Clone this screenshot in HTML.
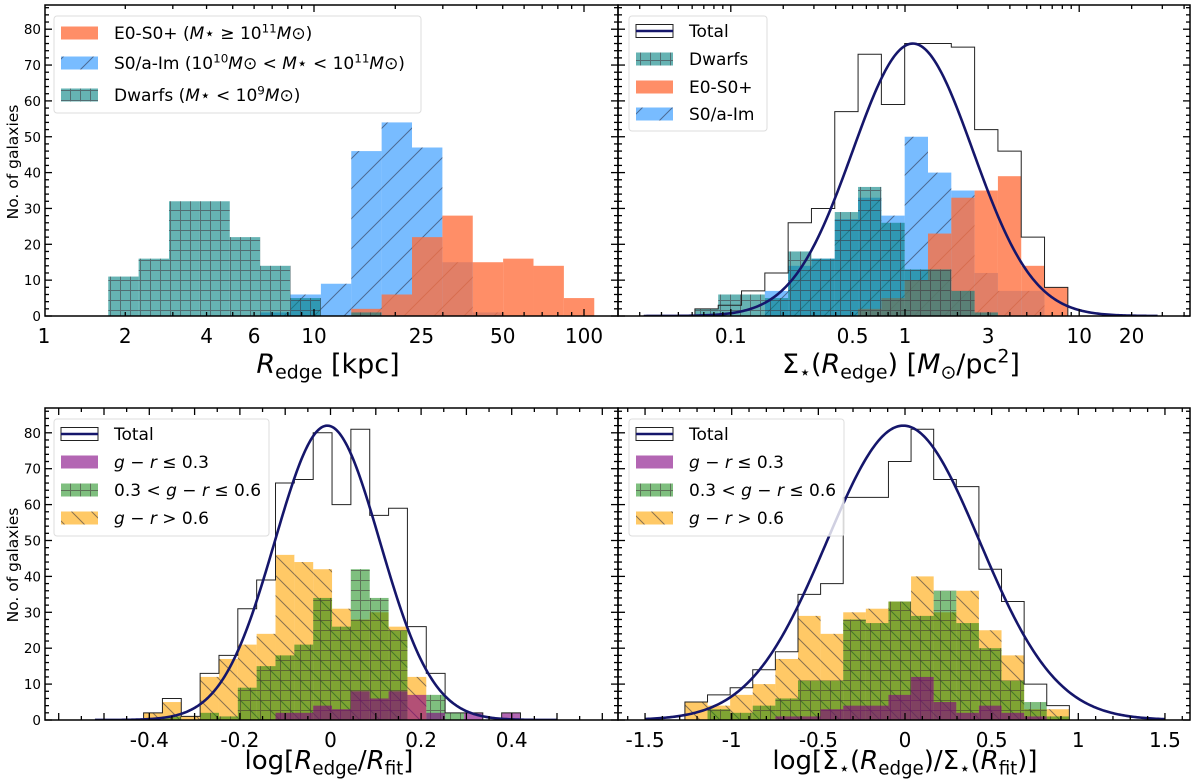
<!DOCTYPE html>
<html><head><meta charset="utf-8">
<style>
html,body{margin:0;padding:0;background:#fff;}
svg{display:block;font-family:"DejaVu Sans","Liberation Sans",sans-serif;}
</style></head>
<body>
<svg id="fig" width="1200" height="779" viewBox="0 0 1200 779" xmlns="http://www.w3.org/2000/svg">
<defs>
<pattern id="hatchSlash" patternUnits="userSpaceOnUse" width="30" height="30">
<path d="M-5,35 L35,-5 M-35,35 L5,-5 M25,35 L65,-5" stroke="rgba(40,40,60,0.55)" stroke-width="1"/>
</pattern>
<pattern id="hatchBack" patternUnits="userSpaceOnUse" width="20" height="20">
<path d="M-5,-5 L25,25 M-25,-5 L5,25 M15,-5 L45,25" stroke="rgba(40,40,60,0.55)" stroke-width="1"/>
</pattern>
<pattern id="hatchGrid" patternUnits="userSpaceOnUse" width="10" height="10">
<path d="M0,0.5 H10 M0.5,0 V10" stroke="rgba(60,40,50,0.5)" stroke-width="1"/>
</pattern>
</defs>
<g id="root"></g>
</svg>
<script>
// ---------- DATA ----------
const tlBinStart = 0.238;
const tlBinWidth = 0.1125;
const tlDwarfs = [11,16,32,32,22,14,5,0,1,0,0,0,0,0,0,0];
const tlSpirals = [0,0,0,0,0,1,6,9,46,54,47,15,1,0,0,0];
const tlEarly = [0,0,0,0,0,0,0,0,2,6,22,28,15,16,14,5];
const tlTickVals = [1,2,4,6,10,25,50,100];
const tlTickLabels = ['1','2','4','6','10','25','50','100'];

const trBinStart = -1.206;
const trBinWidth = 0.1338;
const trTotal = [2,3,7,12,26,30,57,73,59,76,76,75,52,46,22,8];
const trDwarfs = [2,6,6,5,18,16,29,36,26,13,13,7,1,0,0,0];
const trSpirals = [0,0,0,7,14,16,27,33,28,50,40,35,12,7,7,0];
const trEarly = [0,0,0,0,0,0,0,2,5,10,23,33,35,39,14,8];
const trFitParams = [76, 0.045, 0.345];
const trTickVals = [0.1,0.5,1,3,10,20];
const trTickLabels = ['0.1','0.5','1','3','10','20'];

const blBinStart = -0.4126;
const blBinWidth = 0.0416;
const blTotal = [2,6,1,13,18,31,39,66,67,80,60,81,57,59,26,13,2,2,0,2];
const blRed = [2,5,1,12,17,21,24,46,44,42,31,28,30,26,12,0,0,0,0,0];
const blGreen = [0,1,0,2,1,9,15,18,21,34,26,42,34,25,0,7,2,0,0,0];
const blBlue = [0,0,0,0,0,0,0,2,2,4,3,8,6,8,7,2,0,2,0,2];
const blFitParams = [82, -0.007, 0.116];
const blTickVals = [-0.4,-0.2,0,0.2,0.4];
const blTickLabels = ['-0.4','-0.2','0','0.2','0.4'];

const brBinStart = -1.27;
const brBinWidth = 0.1305;
const brTotal = [5,7,9,14,19,35,38,62,62,72,81,67,65,42,33,10,4];
const brRed = [5,4,7,10,17,29,24,30,31,33,40,30,36,25,18,3,3];
const brGreen = [0,3,2,4,6,11,11,28,27,33,29,36,27,20,11,5,1];
const brBlue = [0,0,0,0,1,1,3,4,4,7,12,5,2,4,2,1,0];
const brFitParams = [82, -0.01, 0.441];
const brTickVals = [-1.5,-1,-0.5,0,0.5,1,1.5];
const brTickLabels = ['-1.5','-1','-0.5','0','0.5','1','1.5'];

const yTickVals = [0,10,20,30,40,50,60,70,80];

// ---------- HELPERS ----------
const NS = 'http://www.w3.org/2000/svg';
const root = document.getElementById('root');
function el(tag, parent){ const e = document.createElementNS(NS, tag); parent.appendChild(e); return e; }
function grp(parent, name){ const g = el('g', parent);
  
  
  return g; }

const tlX = v => 44 + 270 * v;
const trX = v => 905 + 174.2 * v;
const blX = v => 330.5 + 453 * v;
const brX = v => 905 + 173.3 * v;
const topY = c => 316 - c * 3.585;
const botY = c => 720 - c * 3.59;

function drawBars(g, vals, start, w, X, Y, fill, hatch, name){
  const sg = grp(g, name);
  vals.forEach((v, i) => {
    if (v <= 0) return;
    const x0 = X(start + i * w), x1 = X(start + (i + 1) * w);
    const r = el('rect', sg);
    
    
    r.setAttribute('x', x0); r.setAttribute('width', x1 - x0);
    r.setAttribute('y', Y(v)); r.setAttribute('height', Y(0) - Y(v));
    r.setAttribute('fill', fill);
    if (hatch){
      const h = el('rect', sg);
      
      
      h.setAttribute('x', x0); h.setAttribute('width', x1 - x0);
      h.setAttribute('y', Y(v)); h.setAttribute('height', Y(0) - Y(v));
      h.setAttribute('fill', 'url(#' + hatch + ')');
    }
  });
}
function drawStep(g, vals, start, w, X, Y){
  let d = 'M' + X(start) + ',' + Y(0);
  vals.forEach((v, i) => { d += ' V' + Y(v) + ' H' + X(start + (i + 1) * w); });
  d += ' V' + Y(0);
  const p = el('path', g);
  
  
  p.setAttribute('d', d); p.setAttribute('fill', 'none');
  p.setAttribute('stroke', '#222'); p.setAttribute('stroke-width', '1');
}
function drawFit(g, params, lo, hi, X, Y){
  const [A, mu, s] = params;
  let d = '';
  for (let k = 0; k <= 300; k++){
    const v = lo + (hi - lo) * k / 300;
    const c = A * Math.exp(-0.5 * ((v - mu) / s) ** 2);
    d += (k ? ' L' : 'M') + X(v).toFixed(2) + ',' + Y(c).toFixed(2);
  }
  const p = el('path', g);
  
  
  p.setAttribute('d', d); p.setAttribute('fill', 'none');
  p.setAttribute('stroke', '#15166b'); p.setAttribute('stroke-width', '2.6');
}
function tick(g, x1, y1, x2, y2){
  const l = el('line', g);
  l.setAttribute('x1', x1); l.setAttribute('y1', y1); l.setAttribute('x2', x2); l.setAttribute('y2', y2);
  l.setAttribute('stroke', '#000'); l.setAttribute('stroke-width', '1.3');
}
function text(g, x, y, str, size, anchor, name){
  const t = el('text', g);
  
  
  t.setAttribute('x', x); t.setAttribute('y', y);
  t.setAttribute('font-size', size); t.setAttribute('text-anchor', anchor || 'middle');
  t.textContent = str;
  return t;
}

function panel(name, L, R, T, B, Y, xMajors, xMinors, xLabelVals, xLabels, X, showYLabels){
  const g = grp(root, name);
  const cp = 'clip-' + name;
  const c = el('clipPath', g); c.setAttribute('id', cp);
  const cr = el('rect', c); cr.setAttribute('x', L); cr.setAttribute('y', T); cr.setAttribute('width', R - L); cr.setAttribute('height', B - T);
  const plot = grp(g, name + '-plot-area');
  plot.setAttribute('clip-path', 'url(#' + cp + ')');
  const ax = grp(g, name + '-axes');
  const fr = el('rect', ax);
   
  fr.setAttribute('x', L); fr.setAttribute('y', T); fr.setAttribute('width', R - L); fr.setAttribute('height', B - T);
  fr.setAttribute('fill', 'none'); fr.setAttribute('stroke', '#000'); fr.setAttribute('stroke-width', '1.5');
  xMajors.forEach(v => { const x = X(v); if (x < L || x > R) return; tick(ax, x, B, x, B - 7); tick(ax, x, T, x, T + 7); });
  xMinors.forEach(v => { const x = X(v); if (x < L || x > R) return; tick(ax, x, B, x, B - 4); tick(ax, x, T, x, T + 4); });
  for (let c2 = 0; c2 <= 86; c2 += 2){
    const y = Y(c2); if (y < T) break;
    const len = c2 % 10 === 0 ? 7 : 4;
    tick(ax, L, y, L + len, y); tick(ax, R, y, R - len, y);
  }
  const xl = grp(g, name + '-x-tick-labels');
  xLabelVals.forEach((v, i) => text(xl, X(v), B + 27, xLabels[i], 20, 'middle', 'x-tick-label'));
  if (showYLabels){
    const yl = grp(g, name + '-y-tick-labels');
    yTickVals.forEach(v => text(yl, L - 4, Y(v) + 5, String(v), 13.5, 'end', 'y-tick-label'));
  }
  return {plot, g};
}

function legendBox(g, x, y, w, h){
  const r = el('rect', g);
   
  r.setAttribute('x', x); r.setAttribute('y', y); r.setAttribute('width', w); r.setAttribute('height', h);
  r.setAttribute('rx', 3); r.setAttribute('fill', 'rgba(255,255,255,0.8)'); r.setAttribute('stroke', '#ddd');
}
function legendPatch(g, x, yc, fill, hatch, total){
  const r = el('rect', g);
   
  r.setAttribute('x', x); r.setAttribute('y', yc - 6.5); r.setAttribute('width', 37); r.setAttribute('height', 13);
  r.setAttribute('fill', total ? '#fff' : fill);
  if (total){ r.setAttribute('stroke', '#222'); r.setAttribute('stroke-width', '1');
    const l = el('line', g); l.setAttribute('x1', x); l.setAttribute('x2', x + 37); l.setAttribute('y1', yc); l.setAttribute('y2', yc);
    l.setAttribute('stroke', '#15166b'); l.setAttribute('stroke-width', '2.6'); }
  if (hatch){ const h = el('rect', g); h.setAttribute('x', x); h.setAttribute('y', yc - 6.5); h.setAttribute('width', 37); h.setAttribute('height', 13); h.setAttribute('fill', 'url(#' + hatch + ')'); }
}
function richText(g, x, y, parts, name, size, anchor){
  const t = el('text', g);
   
  t.setAttribute('x', x); t.setAttribute('y', y); t.setAttribute('font-size', size || 17);
  if (anchor) t.setAttribute('text-anchor', anchor);
  parts.forEach(p => {
    const s = el('tspan', t);
    s.textContent = p[0];
    if (p[1] === 'i') s.setAttribute('font-style', 'italic');
    if (p[1] === 'sup'){ s.setAttribute('font-size', '0.7em'); s.setAttribute('dy', '-0.55em'); }
    if (p[1] === 'unsup'){ s.setAttribute('dy', '0.385em'); s.setAttribute('font-style', 'italic'); }
    if (p[1] === 'unsupn'){ s.setAttribute('dy', '0.385em'); }
    if (p[1] === 'sub'){ s.setAttribute('font-size', '0.7em'); s.setAttribute('dy', '0.3em'); }
    if (p[1] === 'unsub'){ s.setAttribute('dy', '-0.21em'); }
  });
  return t;
}

const cTeal = 'rgba(0,128,128,0.6)';
const cBlue = 'rgba(30,144,255,0.6)';
const cCoral = 'rgba(255,110,60,0.78)';
const cOrange = 'rgba(255,165,0,0.6)';
const cGreen = 'rgba(0,128,0,0.5)';
const cPurple = 'rgba(128,0,128,0.6)';

function logRange(a, b, mults){ const out = []; for (let e = a; e <= b; e++) mults.forEach(m => out.push(Math.log10(m * Math.pow(10, e)))); return out; }

// ---------- TOP LEFT ----------
{
  const p = panel('panel-redge', 45, 618, 5, 316, topY,
    [0,1,2], logRange(0, 2, [2,3,4,5,6,7,8,9]),
    tlTickVals.map(v => Math.log10(v)), tlTickLabels, tlX, true);
  drawBars(p.plot, tlSpirals, tlBinStart, tlBinWidth, tlX, topY, cBlue, 'hatchSlash', 'spirals-bars');
  drawBars(p.plot, tlEarly, tlBinStart, tlBinWidth, tlX, topY, cCoral, null, 'early-type-bars');
  drawBars(p.plot, tlDwarfs, tlBinStart, tlBinWidth, tlX, topY, cTeal, 'hatchGrid', 'dwarfs-bars');
  const lg = grp(p.g, 'legend-redge');
  legendBox(lg, 54, 16, 367, 97);
  legendPatch(lg, 61, 33, cCoral, null);
  richText(lg, 114, 39, [['E0-S0+ ('],['M','i'],['⋆ ≥ 10'],['11','sup'],['M','unsup'],['⊙)']], 'legend-entry-early');
  legendPatch(lg, 61, 63, cBlue, 'hatchSlash');
  richText(lg, 114, 69, [['S0/a-Im (10'],['10','sup'],['M','unsup'],['⊙ < '],['M','i'],['⋆ < 10'],['11','sup'],['M','unsup'],['⊙)']], 'legend-entry-spirals');
  legendPatch(lg, 61, 95, cTeal, 'hatchGrid');
  richText(lg, 114, 101, [['Dwarfs ('],['M','i'],['⋆ < 10'],['9','sup'],['M','unsup'],['⊙)']], 'legend-entry-dwarfs');
  richText(p.g, 328, 373, [['R','i'],['edge','sub'],[' [kpc]','unsub']], 'x-axis-title', 27, 'middle');
}

// ---------- TOP RIGHT ----------
{
  const p = panel('panel-sigma', 618, 1190, 5, 316, topY,
    [-2,-1,0,1], logRange(-2, 1, [2,3,4,5,6,7,8,9]),
    trTickVals.map(v => Math.log10(v)), trTickLabels, trX, false);
  drawBars(p.plot, trSpirals, trBinStart, trBinWidth, trX, topY, cBlue, 'hatchSlash', 'spirals-bars');
  drawBars(p.plot, trEarly, trBinStart, trBinWidth, trX, topY, cCoral, null, 'early-type-bars');
  drawBars(p.plot, trDwarfs, trBinStart, trBinWidth, trX, topY, cTeal, 'hatchGrid', 'dwarfs-bars');
  drawStep(p.plot, trTotal, trBinStart, trBinWidth, trX, topY);
  drawFit(p.plot, trFitParams, -1.5, 1.45, trX, topY);
  const lg = grp(p.g, 'legend-sigma');
  legendBox(lg, 629, 16, 138, 115);
  legendPatch(lg, 636, 31, null, null, true);
  richText(lg, 689, 37, [['Total']], 'legend-entry-total');
  legendPatch(lg, 636, 59, cTeal, 'hatchGrid');
  richText(lg, 689, 65, [['Dwarfs']], 'legend-entry-dwarfs');
  legendPatch(lg, 636, 87, cCoral, null);
  richText(lg, 689, 93, [['E0-S0+']], 'legend-entry-early');
  legendPatch(lg, 636, 114, cBlue, 'hatchSlash');
  richText(lg, 689, 120, [['S0/a-Im']], 'legend-entry-spirals');
  richText(p.g, 901, 373, [['Σ'],['⋆','sub'],['(','unsub'],['R','i'],['edge','sub'],[') [','unsub'],['M','i'],['⊙','sub'],['/pc','unsub'],['2','sup'],[']','unsupn']], 'x-axis-title', 27, 'middle');
}

// ---------- BOTTOM LEFT ----------
{
  const majors = [], minors = [];
  for (let k = -12; k <= 12; k++){ const v = k * 0.05; if (k % 2 === 0) majors.push(v); else minors.push(v); }
  const p = panel('panel-rratio', 45, 618, 408, 720, botY, majors, minors, blTickVals, blTickLabels, blX, true);
  drawBars(p.plot, blRed, blBinStart, blBinWidth, blX, botY, cOrange, 'hatchBack', 'red-color-bars');
  drawBars(p.plot, blGreen, blBinStart, blBinWidth, blX, botY, cGreen, 'hatchGrid', 'green-color-bars');
  drawBars(p.plot, blBlue, blBinStart, blBinWidth, blX, botY, cPurple, null, 'blue-color-bars');
  drawStep(p.plot, blTotal, blBinStart, blBinWidth, blX, botY);
  drawFit(p.plot, blFitParams, -0.52, 0.5, blX, botY);
  const lg = grp(p.g, 'legend-rratio');
  legendBox(lg, 54, 419, 215, 117);
  legendPatch(lg, 61, 434, null, null, true);
  richText(lg, 114, 440, [['Total']], 'legend-entry-total');
  legendPatch(lg, 61, 462, cPurple, null);
  richText(lg, 114, 468, [['g','i'],[' − '],['r','i'],[' ≤ 0.3']], 'legend-entry-blue');
  legendPatch(lg, 61, 490, cGreen, 'hatchGrid');
  richText(lg, 114, 496, [['0.3 < '],['g','i'],[' − '],['r','i'],[' ≤ 0.6']], 'legend-entry-green');
  legendPatch(lg, 61, 518, cOrange, 'hatchBack');
  richText(lg, 114, 524, [['g','i'],[' − '],['r','i'],[' > 0.6']], 'legend-entry-red');
  richText(p.g, 329, 769, [['log['],['R','i'],['edge','sub'],['/','unsub'],['R','i'],['fit','sub'],[']','unsub']], 'x-axis-title', 26, 'middle');
}

// ---------- BOTTOM RIGHT ----------
{
  const majors = [], minors = [];
  for (let k = -17; k <= 17; k++){ const v = k * 0.1; if (k % 5 === 0) majors.push(v); else minors.push(v); }
  const p = panel('panel-sigmaratio', 618, 1190, 408, 720, botY, majors, minors, brTickVals, brTickLabels, brX, false);
  drawBars(p.plot, brRed, brBinStart, brBinWidth, brX, botY, cOrange, 'hatchBack', 'red-color-bars');
  drawBars(p.plot, brGreen, brBinStart, brBinWidth, brX, botY, cGreen, 'hatchGrid', 'green-color-bars');
  drawBars(p.plot, brBlue, brBinStart, brBinWidth, brX, botY, cPurple, null, 'blue-color-bars');
  drawStep(p.plot, brTotal, brBinStart, brBinWidth, brX, botY);
  drawFit(p.plot, brFitParams, -1.5, 1.5, brX, botY);
  const lg = grp(p.g, 'legend-sigmaratio');
  legendBox(lg, 629, 419, 215, 117);
  legendPatch(lg, 636, 434, null, null, true);
  richText(lg, 689, 440, [['Total']], 'legend-entry-total');
  legendPatch(lg, 636, 462, cPurple, null);
  richText(lg, 689, 468, [['g','i'],[' − '],['r','i'],[' ≤ 0.3']], 'legend-entry-blue');
  legendPatch(lg, 636, 490, cGreen, 'hatchGrid');
  richText(lg, 689, 496, [['0.3 < '],['g','i'],[' − '],['r','i'],[' ≤ 0.6']], 'legend-entry-green');
  legendPatch(lg, 636, 518, cOrange, 'hatchBack');
  richText(lg, 689, 524, [['g','i'],[' − '],['r','i'],[' > 0.6']], 'legend-entry-red');
  richText(p.g, 905, 769, [['log[Σ'],['⋆','sub'],['(','unsub'],['R','i'],['edge','sub'],[')/Σ','unsub'],['⋆','sub'],['(','unsub'],['R','i'],['fit','sub'],[')]','unsub']], 'x-axis-title', 26, 'middle');
}

// y-axis titles
{
  const g = grp(root, 'y-axis-titles');
  const t1 = text(g, 0, 0, 'No. of galaxies', 15.5, 'middle', 'y-axis-title-top');
  t1.setAttribute('transform', 'translate(18,162) rotate(-90)');
  const t2 = text(g, 0, 0, 'No. of galaxies', 15.5, 'middle', 'y-axis-title-bottom');
  t2.setAttribute('transform', 'translate(18,565) rotate(-90)');
}
</script>
</body></html>
